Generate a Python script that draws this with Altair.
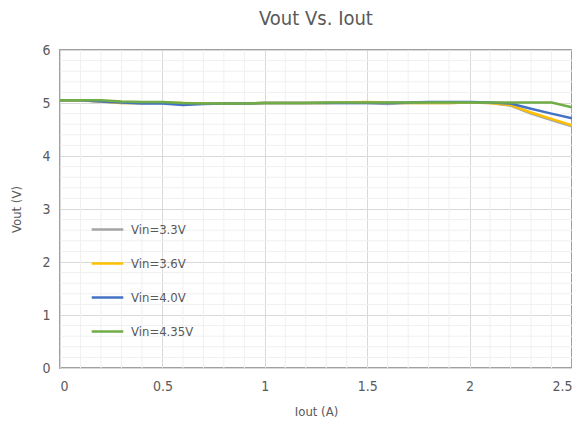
import altair as alt
import pandas as pd
import numpy as np

iout = [0.0, 0.1, 0.2, 0.3, 0.4, 0.5, 0.6, 0.7, 0.8, 0.9, 1.0, 1.1, 1.2, 1.3,
        1.4, 1.5, 1.6, 1.7, 1.8, 1.9, 2.0, 2.1, 2.2, 2.3, 2.4, 2.5]
v33 = [5.05, 5.05, 5.03, 5.00, 5.00, 5.00, 4.99, 4.99, 4.99, 4.99, 5.00, 5.00, 5.00,
       5.00, 5.00, 5.00, 4.98, 5.00, 5.00, 5.00, 5.01, 5.00, 4.95, 4.80, 4.68, 4.56]
v36 = [5.05, 5.05, 5.03, 5.00, 5.00, 5.01, 5.00, 4.99, 4.99, 4.99, 5.00, 5.00, 5.00,
       5.00, 5.01, 5.02, 5.01, 5.00, 5.00, 5.00, 5.01, 5.00, 4.96, 4.82, 4.70, 4.58]
v40 = [5.05, 5.05, 5.03, 5.01, 4.99, 4.99, 4.96, 4.98, 4.99, 4.99, 5.00, 5.00, 5.00,
       5.00, 5.00, 5.00, 5.00, 5.01, 5.02, 5.02, 5.02, 5.01, 4.99, 4.89, 4.80, 4.71]
v435 = [5.05, 5.05, 5.05, 5.03, 5.02, 5.02, 5.00, 4.99, 4.99, 4.99, 5.00, 5.00, 5.00,
        5.01, 5.01, 5.01, 5.01, 5.01, 5.01, 5.01, 5.01, 5.01, 5.01, 5.01, 5.01, 4.92]

series_names = ["Vin=3.3V", "Vin=3.6V", "Vin=4.0V", "Vin=4.35V"]
series_vals = [v33, v36, v40, v435]
colors = ["#A5A5A5", "#FFC000", "#4472C4", "#70AD47"]

x_ticks = [0, 0.5, 1, 1.5, 2, 2.5]
y_ticks = [0, 1, 2, 3, 4, 5, 6]
x_minor = [0.1, 0.2, 0.3, 0.4, 0.6, 0.7, 0.8, 0.9, 1.1, 1.2, 1.3, 1.4, 1.6, 1.7,
           1.8, 1.9, 2.1, 2.2, 2.3, 2.4]
y_minor = [0.2, 0.4, 0.6, 0.8, 1.2, 1.4, 1.6, 1.8, 2.2, 2.4, 2.6, 2.8, 3.2, 3.4,
           3.6, 3.8, 4.2, 4.4, 4.6, 4.8, 5.2, 5.4, 5.6, 5.8]

rows = []
for name, vals in zip(series_names, series_vals):
    for x, v in zip(iout, vals):
        rows.append({"Iout": x, "Vout": v, "Series": name})
df = pd.DataFrame(rows)

FONT = "DejaVu Sans Condensed, Liberation Sans Narrow, Roboto, sans-serif"
TXT = "#595959"

xscale = alt.Scale(domain=[0, 2.5], nice=False, zero=False)
yscale = alt.Scale(domain=[0, 6], nice=False)

gx = alt.Chart(pd.DataFrame({"x": x_minor})).mark_rule(color="#F0F0F0", strokeWidth=1).encode(
    x=alt.X("x:Q", scale=xscale))
gy = alt.Chart(pd.DataFrame({"y": y_minor})).mark_rule(color="#F0F0F0", strokeWidth=1).encode(
    y=alt.Y("y:Q", scale=yscale))

lines = alt.Chart(df).mark_line(strokeWidth=2.5).encode(
    x=alt.X("Iout:Q", scale=xscale, title="Iout (A)",
            axis=alt.Axis(values=x_ticks, format="~g", grid=True, gridColor="#D9D9D9",
                          ticks=False, domain=False, labelPadding=11, titlePadding=12)),
    y=alt.Y("Vout:Q", scale=yscale, title="Vout (V)",
            axis=alt.Axis(values=y_ticks, grid=True, gridColor="#D9D9D9",
                          ticks=False, domain=False, labelPadding=10, titlePadding=18)),
    color=alt.Color("Series:N", scale=alt.Scale(domain=series_names, range=colors),
                    sort=series_names,
                    legend=alt.Legend(title=None, orient="none", legendX=30, legendY=162,
                                      symbolType="stroke", symbolSize=1000,
                                      symbolStrokeWidth=2.5, labelFontSize=13,
                                      labelFont=FONT, labelColor=TXT, rowPadding=9,
                                      labelOffset=6)),
    order=alt.Order("Iout:Q"),
)

chart = alt.layer(gx, gy, lines).properties(
    width=512, height=318,
    title=alt.Title("Vout Vs. Iout", fontSize=20, font=FONT, color=TXT,
                    fontWeight="normal", offset=14),
    autosize=alt.AutoSizeParams(type="none"),
    padding={"left": 52, "top": 42, "right": 0, "bottom": 50},
).configure_view(stroke="#A0A0A0", strokeWidth=2).configure_axis(
    labelFont=FONT, titleFont=FONT, labelFontSize=14, titleFontSize=13,
    labelColor=TXT, titleColor=TXT, titleFontWeight="normal",
)

chart.save("out.html", embed_options={"renderer": "svg", "actions": False})
